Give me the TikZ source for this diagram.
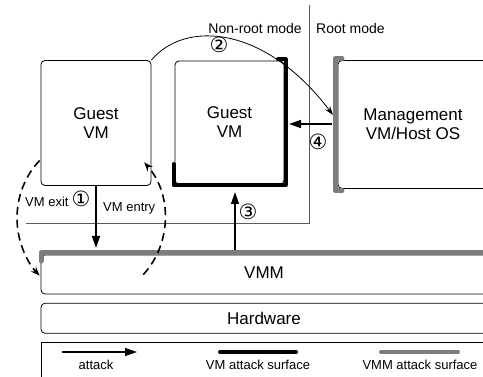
\documentclass[tikz,border=0pt]{standalone}
\usepackage{fontspec}
\setmainfont{Liberation Sans}
\newfontfamily\circfont{DejaVu Sans}
\usetikzlibrary{arrows.meta}
\definecolor{surfgray}{RGB}{125,125,125}
\definecolor{modegray}{RGB}{90,90,90}
\begin{document}
\begin{tikzpicture}[x=1pt,y=-1pt,
  box/.style={draw, line width=0.8pt, rounded corners=4pt, inner sep=0pt, align=center, font=\fontsize{17}{19}\selectfont},
  arr/.style={line width=1.4pt, -{Triangle[length=12pt,width=8pt]}},
  thinarr/.style={line width=0.8pt, -{Stealth[length=9pt,width=6pt]}},
  dasharc/.style={line width=1.6pt, dash pattern=on 8pt off 5pt, -{Stealth[length=9pt,width=7pt]}},
  vmsurf/.style={line width=4pt, line cap=round, line join=round},
  vmmsurf/.style={line width=5pt, draw=surfgray, line cap=round, line join=round},
  lbl/.style={font=\fontsize{13}{15}\selectfont, inner sep=0pt},
  modelbl/.style={font=\fontsize{14}{16}\selectfont, inner sep=0pt},
  num/.style={font=\circfont\fontsize{21}{21}\selectfont, inner sep=0pt}]
\useasboundingbox (0,0) rectangle (483,377);

% mode divider
\draw[modegray, line width=0.9pt] (309,5) -- (309,223) -- (26,223);
\node[modelbl, anchor=east] (nonroot) at (302,28) {Non-root mode};
\node[modelbl, anchor=west] (root) at (316,28) {Root mode};

% boxes
\node[box, minimum width=110pt, minimum height=125pt] (g1) at (96,123) {Guest\\VM};
\node[box, minimum width=109pt, minimum height=123pt] (g2) at (229.5,122.5) {Guest\\VM};
\node[box, minimum width=150pt, minimum height=128pt] (mgmt) at (413,124.5) {Management\\VM/Host OS};
\node[box, minimum width=446pt, minimum height=39pt, text depth=3pt] (vmm) at (264,274.5) {VMM};
\node[box, minimum width=446pt, minimum height=30pt] (hw) at (264,318.3) {Hardware};
\draw[line width=0.8pt] (490,342) -- (41,342) -- (41,390);

% attack surfaces
\coordinate (s1) at (173.5,164);
\coordinate (s2) at (173.5,185.5);
\coordinate (s3) at (285.5,185.5);
\coordinate (s4) at (285.5,59.5);
\coordinate (s5) at (278,59.5);
\draw[vmsurf] (s1) -- (s2) -- (s3) -- (s4) -- (s5);
\coordinate (m1) at (342,58.5);
\coordinate (m2) at (335,58.5);
\coordinate (m3) at (335,190.5);
\coordinate (m4) at (342,190.5);
\draw[vmmsurf] (m1) -- (m2) -- (m3) -- (m4);
\coordinate (v1) at (41,261);
\coordinate (v2) at (41,252.5);
\coordinate (v3) at (495,252.5);
\draw[vmmsurf] (v1) -- (v2) -- (v3);

% attacks
\coordinate (exitend) at (96,248);
\draw[arr] (g1.south) -- (exitend);
\coordinate (a3s) at (235,250);
\coordinate (a3e) at (235,192);
\draw[arr] (a3s) -- (a3e);
\coordinate (a4s) at (332,124);
\coordinate (a4e) at (289,124);
\draw[arr] (a4s) -- (a4e);
\coordinate (a2e) at (333,115);
\draw[thinarr] (g1.north east) .. controls (185,20) and (265,25) .. (a2e);

% VM exit / entry loop
\draw[dasharc] (39.6,160.5) arc[start angle=134, end angle=226, x radius=74pt, y radius=80pt];
\draw[dasharc] (143.3,274.6) arc[start angle=-45, end angle=44, x radius=74pt, y radius=80pt];

\node[lbl, anchor=west] (exitlbl) at (25,202) {VM exit};
\node[lbl, anchor=west] (entrylbl) at (103,208) {VM entry};
\node[num] (n1) at (81,199) {①};
\node[num] (n2) at (219,45) {②};
\node[num] (n3) at (248,212) {③};
\node[num] (n4) at (318,142) {④};

% legend
\coordinate (la) at (62,352);
\coordinate (lb) at (137,352);
\draw[arr] (la) -- (lb);
\coordinate (lc) at (220,352);
\coordinate (ld) at (296,352);
\draw[vmsurf] (lc) -- (ld);
\coordinate (le) at (381,352);
\coordinate (lf) at (458,352);
\draw[vmmsurf, line width=4pt] (le) -- (lf);
\node[lbl] (lt1) at (96,365) {attack};
\node[lbl] (lt2) at (258,365) {VM attack surface};
\node[lbl] (lt3) at (420,365) {VMM attack surface};
\end{tikzpicture}
\end{document}
